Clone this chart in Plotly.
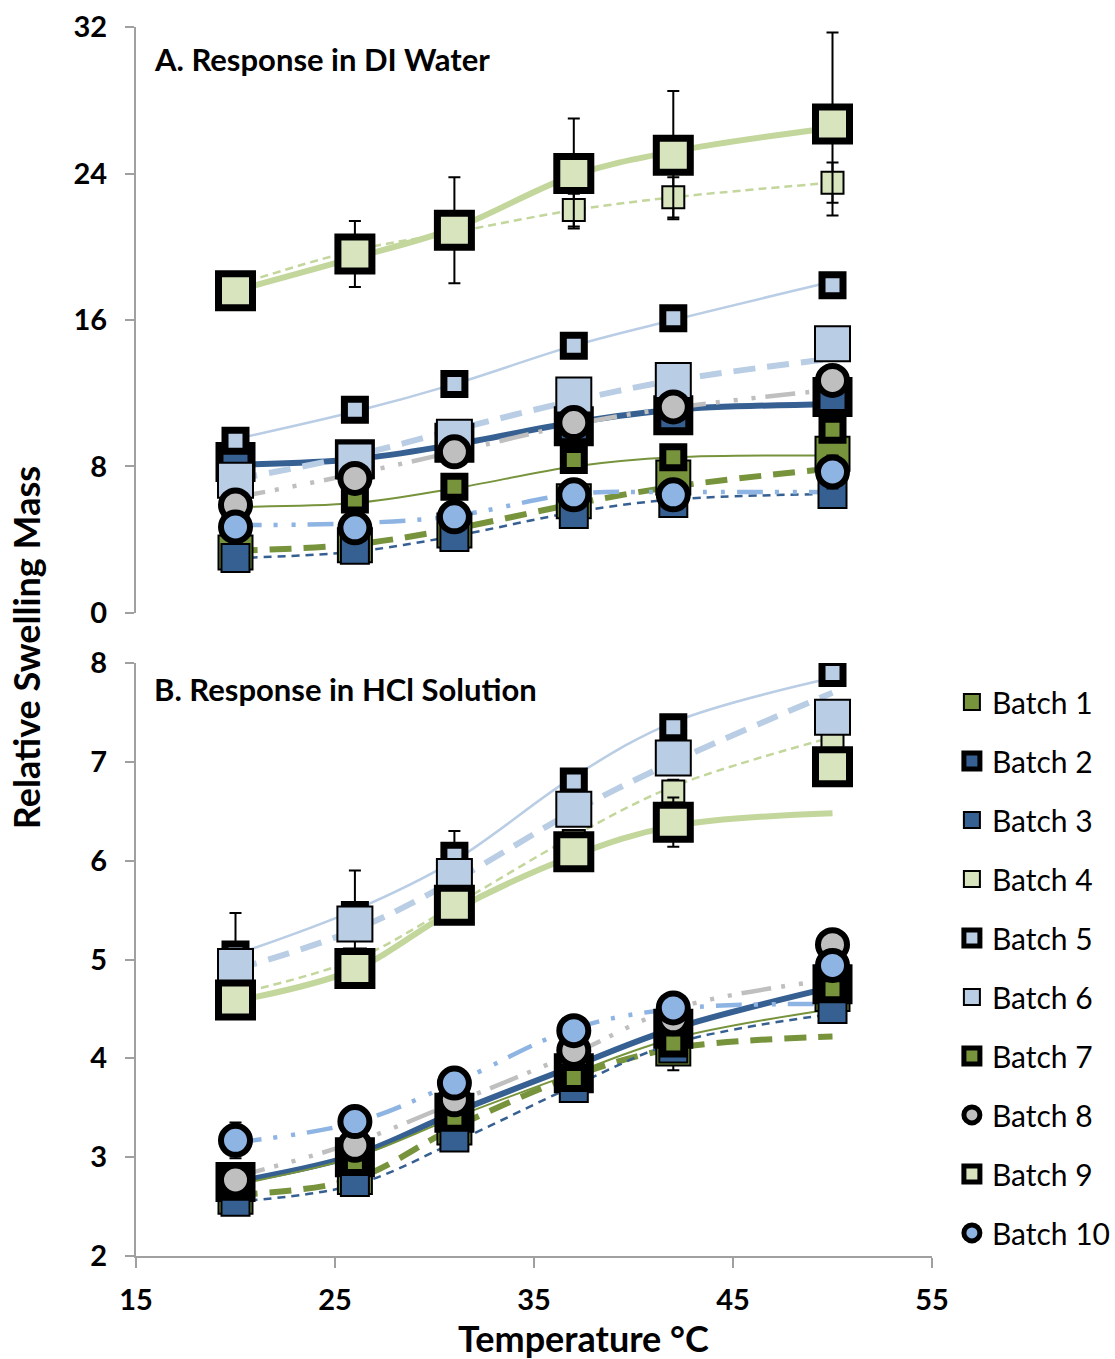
import plotly.graph_objects as go

temps = [20, 26, 31, 37, 42, 50]
batch_names = ["Batch 1", "Batch 2", "Batch 3", "Batch 4", "Batch 5",
               "Batch 6", "Batch 7", "Batch 8", "Batch 9", "Batch 10"]

# ---- A. DI water: measured values ----
di_b1 = [3.3, 3.7, 4.5, 6.1, 7.4, 8.7]
di_b2 = [8.25, 8.4, 9.3, 10.2, 10.8, 11.8]
di_b3 = [3.0, 3.45, 4.15, 5.4, 6.0, 6.5]
di_b4 = [17.9, 19.9, 21.0, 22.0, 22.7, 23.5]
di_b5 = [9.4, 11.1, 12.5, 14.6, 16.1, 17.9]
di_b6 = [7.25, 8.3, 9.6, 11.9, 12.7, 14.7]
di_b7 = [5.3, 6.2, 6.9, 8.35, 8.5, 10.0]
di_b8 = [5.9, 7.35, 8.8, 10.4, 11.25, 12.7]
di_b9 = [17.6, 19.6, 20.9, 24.0, 25.0, 26.7]
di_b10 = [4.7, 4.65, 5.25, 6.45, 6.45, 7.7]

# ---- A. DI water: error bars ----
di_e1 = [0.2, 0.2, 0.2, 0.3, 0.3, 0.3]
di_e2 = [0.3, 0.3, 0.3, 0.3, 0.3, 0.3]
di_e3 = [0.2, 0.7, 0.2, 0.2, 0.2, 0.2]
di_e4 = [0.4, 0.6, 0.6, 0.9, 1.1, 1.1]
di_e5 = [0.3, 0.3, 0.3, 0.3, 0.6, 0.3]
di_e6 = [0.3, 0.3, 0.3, 0.8, 0.5, 0.8]
di_e7 = [0.2, 0.2, 0.2, 0.2, 0.2, 0.2]
di_e8 = [0.2, 0.2, 0.2, 0.2, 0.2, 0.2]
di_e9 = [0.5, 1.8, 2.9, 3.0, 3.5, 5.0]
di_e10 = [0.2, 0.2, 0.2, 0.2, 0.2, 0.9]

# ---- A. DI water: trendline values ----
di_t1 = [3.4, 3.75, 4.6, 5.95, 6.9, 7.9]
di_t2 = [8.1, 8.4, 9.2, 10.4, 11.1, 11.4]
di_t3 = [3.0, 3.35, 4.2, 5.5, 6.2, 6.5]
di_t4 = [17.9, 19.8, 20.8, 22.0, 22.7, 23.5]
di_t5 = [9.5, 11.0, 12.5, 14.6, 16.0, 18.1]
di_t6 = [7.3, 8.6, 10.0, 11.6, 12.7, 13.9]
di_t7 = [5.8, 6.0, 6.8, 8.0, 8.5, 8.6]
di_t8 = [6.3, 7.6, 8.8, 10.3, 11.2, 12.2]
di_t9 = [17.6, 19.4, 21.0, 23.9, 25.2, 26.5]
di_t10 = [4.8, 4.9, 5.3, 6.5, 6.6, 6.6]

# ---- B. HCl solution: measured values ----
hcl_b1 = [2.6, 2.8, 3.3, 3.85, 4.1, 4.65]
hcl_b2 = [2.75, 3.0, 3.45, 3.85, 4.3, 4.75]
hcl_b3 = [2.55, 2.75, 3.2, 3.7, 4.1, 4.5]
hcl_b4 = [4.65, 5.0, 5.6, 6.2, 6.7, 7.2]
hcl_b5 = [5.05, 5.45, 6.05, 6.8, 7.35, 7.9]
hcl_b6 = [4.93, 5.36, 5.84, 6.52, 7.04, 7.45]
hcl_b7 = [2.7, 2.95, 3.4, 3.8, 4.15, 4.7]
hcl_b8 = [2.77, 3.12, 3.58, 4.08, 4.4, 5.15]
hcl_b9 = [4.59, 4.91, 5.55, 6.09, 6.39, 6.95]
hcl_b10 = [3.17, 3.36, 3.75, 4.28, 4.51, 4.94]

# ---- B. HCl solution: error bars ----
hcl_e1 = [0.05, 0.05, 0.05, 0.05, 0.22, 0.05]
hcl_e2 = [0.05, 0.05, 0.05, 0.05, 0.05, 0.05]
hcl_e3 = [0.05, 0.05, 0.05, 0.05, 0.05, 0.05]
hcl_e4 = [0.05, 0.05, 0.05, 0.05, 0.12, 0.05]
hcl_e5 = [0.42, 0.1, 0.25, 0.1, 0.1, 0.1]
hcl_e6 = [0.05, 0.54, 0.05, 0.05, 0.05, 0.05]
hcl_e7 = [0.05, 0.05, 0.05, 0.05, 0.05, 0.05]
hcl_e8 = [0.05, 0.05, 0.05, 0.05, 0.05, 0.05]
hcl_e9 = [0.05, 0.05, 0.05, 0.05, 0.25, 0.05]
hcl_e10 = [0.18, 0.05, 0.05, 0.05, 0.05, 0.05]

# ---- B. HCl solution: trendline values ----
hcl_t1 = [2.62, 2.78, 3.3, 3.82, 4.1, 4.22]
hcl_t2 = [2.75, 3.02, 3.45, 3.92, 4.3, 4.72]
hcl_t3 = [2.55, 2.72, 3.15, 3.72, 4.15, 4.45]
hcl_t4 = [4.65, 5.0, 5.55, 6.25, 6.75, 7.25]
hcl_t5 = [5.05, 5.5, 6.0, 6.85, 7.4, 7.85]
hcl_t6 = [4.9, 5.3, 5.8, 6.5, 7.0, 7.7]
hcl_t7 = [2.72, 3.0, 3.4, 3.85, 4.2, 4.5]
hcl_t8 = [2.8, 3.15, 3.55, 4.05, 4.5, 4.8]
hcl_t9 = [4.58, 4.9, 5.5, 6.05, 6.35, 6.48]
hcl_t10 = [3.15, 3.35, 3.75, 4.3, 4.5, 4.55]

di_vals = [di_b1, di_b2, di_b3, di_b4, di_b5, di_b6, di_b7, di_b8, di_b9, di_b10]
di_errs = [di_e1, di_e2, di_e3, di_e4, di_e5, di_e6, di_e7, di_e8, di_e9, di_e10]
di_trend = [di_t1, di_t2, di_t3, di_t4, di_t5, di_t6, di_t7, di_t8, di_t9, di_t10]
hcl_vals = [hcl_b1, hcl_b2, hcl_b3, hcl_b4, hcl_b5, hcl_b6, hcl_b7, hcl_b8, hcl_b9, hcl_b10]
hcl_errs = [hcl_e1, hcl_e2, hcl_e3, hcl_e4, hcl_e5, hcl_e6, hcl_e7, hcl_e8, hcl_e9, hcl_e10]
hcl_trend = [hcl_t1, hcl_t2, hcl_t3, hcl_t4, hcl_t5, hcl_t6, hcl_t7, hcl_t8, hcl_t9, hcl_t10]

# ---- styles ----
GREEN = "#77933C"
DBLUE = "#376092"
LGREEN = "#D7E4BD"
LGREEN_LINE = "#C3D69B"
LBLUE = "#B9CDE5"
GREY = "#BFBFBF"
MBLUE = "#8EB4E3"

marker_styles = [
    dict(symbol="square", size=34, color=GREEN, line=dict(color="black", width=2)),
    dict(symbol="square", size=32, color=DBLUE, line=dict(color="black", width=8)),
    dict(symbol="square", size=28, color=DBLUE, line=dict(color="black", width=2)),
    dict(symbol="square", size=22, color=LGREEN, line=dict(color="black", width=2)),
    dict(symbol="square", size=21, color=LBLUE, line=dict(color="black", width=7)),
    dict(symbol="square", size=35, color=LBLUE, line=dict(color="black", width=2)),
    dict(symbol="square", size=21, color=GREEN, line=dict(color="black", width=7)),
    dict(symbol="circle", size=29, color=GREY, line=dict(color="black", width=6)),
    dict(symbol="square", size=34, color=LGREEN, line=dict(color="black", width=7)),
    dict(symbol="circle", size=29, color=MBLUE, line=dict(color="black", width=6)),
]
line_styles = [
    dict(color=GREEN, width=6, dash="22px,12px"),
    dict(color=DBLUE, width=6),
    dict(color=DBLUE, width=2.5, dash="8px,6px"),
    dict(color=LGREEN_LINE, width=2.5, dash="8px,5px"),
    dict(color=LBLUE, width=2.5),
    dict(color=LBLUE, width=6, dash="22px,12px"),
    dict(color=GREEN, width=2),
    dict(color=GREY, width=4.5, dash="30px,10px,4px,14px,4px,14px,4px,10px"),
    dict(color=LGREEN_LINE, width=6),
    dict(color=MBLUE, width=4.5, dash="26px,12px,4px,14px,4px,12px"),
]

fig = go.Figure()

# trendlines (drawn first, below markers)
for i in range(10):
    for yv, xa, ya in ((di_trend[i], "x2", "y2"), (hcl_trend[i], "x", "y")):
        fig.add_trace(go.Scatter(
            x=temps, y=yv, mode="lines", line=dict(shape="spline", **line_styles[i]),
            xaxis=xa, yaxis=ya, showlegend=False, legendgroup=f"b{i+1}",
            hoverinfo="skip"))

# markers with error bars
for i in range(10):
    fig.add_trace(go.Scatter(
        x=temps, y=di_vals[i], mode="markers", name=batch_names[i],
        marker=marker_styles[i], xaxis="x2", yaxis="y2",
        error_y=dict(type="data", array=di_errs[i], color="black", thickness=2, width=6),
        legendgroup=f"b{i+1}", showlegend=True))
    fig.add_trace(go.Scatter(
        x=temps, y=hcl_vals[i], mode="markers", name=batch_names[i],
        marker=marker_styles[i], xaxis="x", yaxis="y",
        error_y=dict(type="data", array=hcl_errs[i], color="black", thickness=2, width=6),
        legendgroup=f"b{i+1}", showlegend=False))

AXC = "#A0A0A0"
FONT = "Lato"
tickfont = dict(family=FONT, size=29, color="black", weight="bold")

fig.update_layout(
    width=1115, height=1359,
    margin=dict(l=136, r=183, t=27, b=103, autoexpand=False),
    plot_bgcolor="white", paper_bgcolor="white",
    font=dict(family=FONT, color="black"),
    xaxis=dict(domain=[0, 1], anchor="y", range=[15, 55], tickvals=[15, 25, 35, 45, 55],
               showline=True, linecolor=AXC, linewidth=2, ticks="outside", ticklen=10,
               tickcolor=AXC, tickwidth=2, showgrid=False, zeroline=False,
               tickfont=tickfont, ticklabelstandoff=7),
    xaxis2=dict(domain=[0, 1], anchor="y2", matches="x", visible=False, range=[15, 55]),
    yaxis=dict(domain=[0, 0.4825], anchor="x", range=[2, 8], tickvals=[2, 3, 4, 5, 6, 7, 8],
               showline=True, linecolor=AXC, linewidth=2, ticks="outside", ticklen=9,
               tickcolor=AXC, tickwidth=2, showgrid=False, zeroline=False,
               tickfont=tickfont, ticklabelstandoff=12),
    yaxis2=dict(domain=[0.5232, 1], anchor="x2", range=[0, 32], tickvals=[0, 8, 16, 24, 32],
                showline=True, linecolor=AXC, linewidth=2, ticks="outside", ticklen=9,
                tickcolor=AXC, tickwidth=2, showgrid=False, zeroline=False,
                tickfont=tickfont, ticklabelstandoff=12),
    legend=dict(x=1.025, y=0.472, xanchor="left", yanchor="top",
                font=dict(family=FONT, size=30, color="black"),
                tracegroupgap=17, itemsizing="trace", itemwidth=30,
                bgcolor="rgba(0,0,0,0)"),
    showlegend=True,
    annotations=[
        dict(text="A. Response in DI Water", xref="paper", yref="paper",
             x=0.020, y=0.9739, xanchor="left", yanchor="middle", showarrow=False,
             font=dict(family=FONT, size=31, color="black", weight="bold")),
        dict(text="B. Response in HCl Solution", xref="paper", yref="paper",
             x=0.020, y=0.4614, xanchor="left", yanchor="middle", showarrow=False,
             font=dict(family=FONT, size=31, color="black", weight="bold")),
        dict(text="Relative Swelling Mass", xref="paper", yref="paper",
             x=-0.138, y=0.4947, xanchor="center", yanchor="middle", showarrow=False,
             textangle=-90, font=dict(family=FONT, size=36, color="black", weight="bold")),
        dict(text="Temperature °C", xref="paper", yref="paper",
             x=0.5616, y=-0.0665, xanchor="center", yanchor="middle", showarrow=False,
             font=dict(family=FONT, size=36, color="black", weight="bold")),
    ],
)

fig.write_html("out.html")
